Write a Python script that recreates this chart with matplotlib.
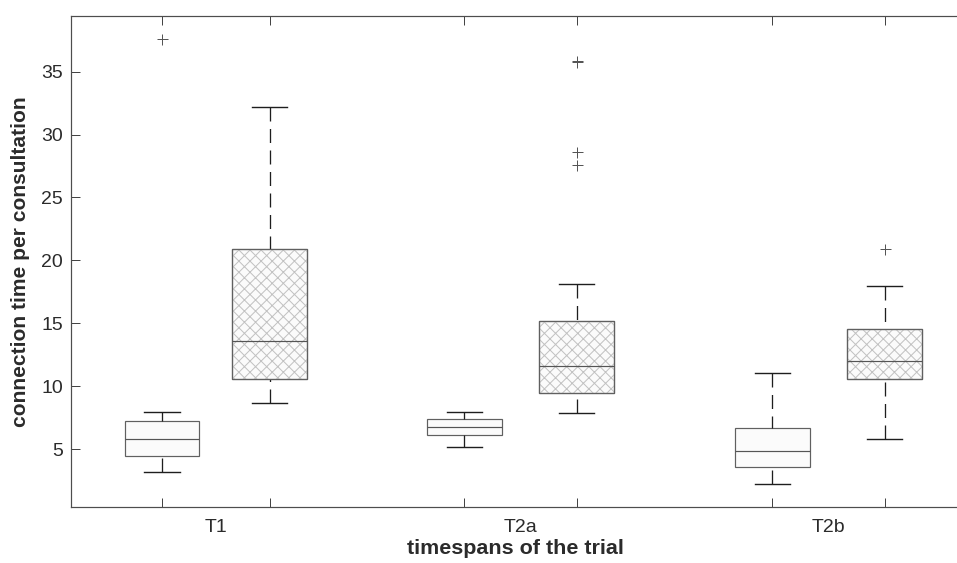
import matplotlib.pyplot as plt
from matplotlib.patches import PathPatch

DPI = 100
PT = 72 / DPI  # převod pixelů na body

plt.rcParams['font.family'] = ['Liberation Sans', 'DejaVu Sans']
plt.rcParams['lines.scale_dashes'] = False
plt.rcParams['hatch.linewidth'] = 1.0 * PT

# Data
groups = ['T1', 'T2a', 'T2b']
whislo = [3.20, 8.63, 5.13, 7.84, 2.19, 5.80]
q1 = [4.47, 10.54, 6.11, 9.48, 3.55, 10.57]
med = [5.82, 13.61, 6.78, 11.63, 4.82, 12.00]
q3 = [7.25, 20.88, 7.41, 15.20, 6.65, 14.52]
whishi = [7.92, 32.19, 7.92, 18.10, 11.02, 17.94]
fliers = [[37.58], [], [], [35.88, 35.75, 28.64, 27.61], [], [20.88]]
hatched = [False, True, False, True, False, True]

positions = [1, 1.98, 3.75, 4.77, 6.55, 7.57]
centers = [(positions[2 * i] + positions[2 * i + 1]) / 2 for i in range(3)]

stats = []
for i in range(len(med)):
    stats.append(dict(whislo=whislo[i], q1=q1[i], med=med[i], q3=q3[i],
                      whishi=whishi[i], fliers=fliers[i]))

fig = plt.figure(figsize=(957 / DPI, 563 / DPI), dpi=DPI)
ax = fig.add_axes([71 / 957, 1 - 507 / 563, (959 - 71) / 957, (507 - 16) / 563])

bp = ax.bxp(stats, positions=positions, widths=0.68, capwidths=0.32,
            patch_artist=True,
            boxprops=dict(facecolor='#fbfbfb', edgecolor='#606060', linewidth=1.2 * PT),
            whiskerprops=dict(color='#1e1e1e', linewidth=1.3 * PT,
                              linestyle=(0, (14 * PT, 7.5 * PT))),
            capprops=dict(color='#1e1e1e', linewidth=1.4 * PT),
            medianprops=dict(color='#555555', linewidth=1.2 * PT, zorder=3),
            flierprops=dict(marker='+', markeredgecolor='#555555', markersize=11 * PT,
                            markeredgewidth=1.0 * PT, linestyle='none'))

# vousy kreslit od zarážky ke krabici (čárkování začíná u zarážky)
for w in bp['whiskers']:
    w.set_ydata(w.get_ydata()[::-1])

# šrafování světle šedou barvou a obrys znovu navrch
for box, h in zip(bp['boxes'], hatched):
    if not h:
        continue
    hp = PathPatch(box.get_path(), facecolor='none', edgecolor='#c2c2c2',
                   hatch='xxx', linewidth=0, zorder=2.3)
    ax.add_patch(hp)
    op = PathPatch(box.get_path(), facecolor='none', edgecolor='#606060',
                   linewidth=1.2 * PT, zorder=2.5)
    ax.add_patch(op)

ax.set_xlim(1 + (71 - 162) / 110, 1 + (959 - 162) / 110)
ax.set_ylim(0.39, 39.43)

ax.set_yticks([5, 10, 15, 20, 25, 30, 35])
ax.set_xticks(positions, labels=[])
ax.set_xticks(centers, labels=groups, minor=True)

ax.tick_params(axis='both', which='major', direction='in', length=9 * PT,
               width=1.0 * PT, color='#444444', labelsize=19.5 * PT,
               labelcolor='#2b2b2b', pad=8 * PT, top=True, right=False)
ax.tick_params(axis='x', which='minor', length=0, labelsize=19.5 * PT,
               labelcolor='#2b2b2b', pad=12 * PT)

for s in ax.spines.values():
    s.set_color('#4d4d4d')
    s.set_linewidth(1.2 * PT)

ax.set_ylabel('connection time per consultation', fontweight='bold',
              fontsize=21 * PT, color='#2b2b2b', labelpad=11 * PT)
ax.set_xlabel('timespans of the trial', fontweight='bold',
              fontsize=21.5 * PT, color='#2b2b2b', labelpad=3 * PT)

fig.savefig('out.png', dpi=DPI)
